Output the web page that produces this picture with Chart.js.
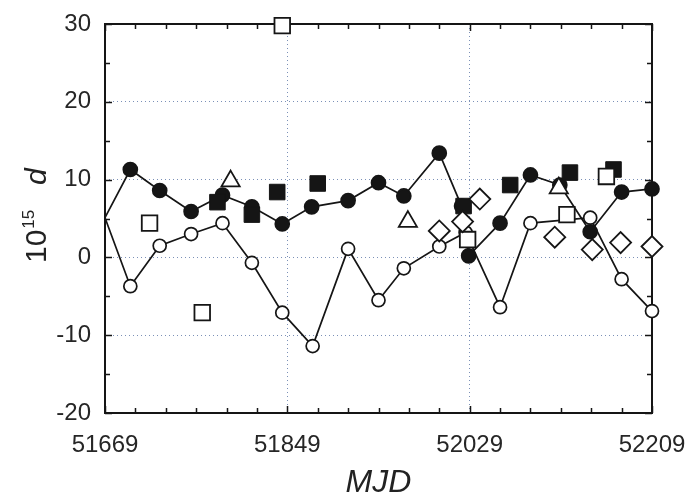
<!DOCTYPE html>
<html>
<head>
<meta charset="utf-8">
<script src="https://cdn.jsdelivr.net/npm/chart.js@4.4.0/dist/chart.umd.min.js"></script>
<style>
html, body { margin: 0; padding: 0; background: #fff; }
#wrap { width: 690px; height: 499px; }
</style>
</head>
<body>
<div id="wrap"><canvas id="dChart" width="690" height="499"></canvas></div>
<script>
// values (MJD, 10^15 d)
var filledMjd = [51669, 51694, 51723, 51754, 51785, 51814, 51844, 51873, 51909, 51939, 51964, 51999, 52021, 52028, 52059, 52089, 52118, 52148, 52179, 52209];
var filledVal = [5.1, 11.3, 8.6, 5.9, 8.0, 6.5, 4.3, 6.5, 7.3, 9.6, 7.9, 13.4, 6.6, 0.2, 4.4, 10.6, 9.3, 3.3, 8.4, 8.8];

var openMjd = [51669, 51694, 51723, 51754, 51785, 51814, 51844, 51874, 51909, 51939, 51964, 51999, 52025, 52059, 52089, 52148, 52179, 52209];
var openVal = [5.1, -3.7, 1.5, 3.0, 4.4, -0.7, -7.1, -11.4, 1.1, -5.5, -1.4, 1.4, 3.2, -6.4, 4.4, 5.1, -2.8, -6.9];

var fSquareMjd = [51780, 51814, 51839, 51879, 52023, 52069, 52128, 52171];
var fSquareVal = [7.1, 5.5, 8.4, 9.5, 6.6, 9.3, 10.9, 11.3];

var oSquareMjd = [51713, 51765, 51844, 52027, 52125, 52164];
var oSquareVal = [4.4, -7.1, 29.8, 2.3, 5.5, 10.4];

var triMjd = [51793, 51968, 52117];
var triVal = [9.8, 4.6, 8.9];

var diaMjd = [51999, 52022, 52039, 52113, 52150, 52178, 52209];
var diaVal = [3.4, 4.6, 7.5, 2.6, 1.0, 1.9, 1.4];

var xTickLabels = [51669, 51849, 52029, 52209];
var yTickLabels = [-20, -10, 0, 10, 20, 30];

function pts(xs, ys) {
    return xs.map(function (x, i) { return { x: x, y: ys[i] }; });
}

var ink = '#151515';
var gridColor = 'rgba(100,125,170,0.85)';

// box around the plot with inward ticks, like the original figure
var framePlugin = {
    id: 'frame',
    beforeDatasetsDraw: function (chart) {
        var a = chart.chartArea, ctx = chart.ctx;
        var xs = chart.scales.x, ys = chart.scales.y;
        ctx.save();
        ctx.strokeStyle = ink;
        ctx.lineWidth = 1.5;
        ctx.beginPath();
        for (var m = xs.min; m <= xs.max; m += 30) {
            var px = Math.round(xs.getPixelForValue(m)) + 0.5;
            var len = (m - xs.min) % 180 === 0 ? 7 : 5;
            ctx.moveTo(px, a.bottom); ctx.lineTo(px, a.bottom - len);
            ctx.moveTo(px, a.top); ctx.lineTo(px, a.top + len);
        }
        for (var v = ys.min; v <= ys.max; v += 5) {
            var py = Math.round(ys.getPixelForValue(v)) + 0.5;
            var l2 = v % 10 === 0 ? 7 : 5;
            ctx.moveTo(a.left, py); ctx.lineTo(a.left + l2, py);
            ctx.moveTo(a.right, py); ctx.lineTo(a.right - l2, py);
        }
        ctx.stroke();
        ctx.lineWidth = 2;
        ctx.strokeRect(a.left, a.top, a.right - a.left, a.bottom - a.top);
        ctx.restore();
    },
    afterDraw: function (chart) {
        // y title: 10^15 d
        var ctx = chart.ctx;
        ctx.save();
        ctx.translate(46, 263);
        ctx.rotate(-Math.PI / 2);
        ctx.fillStyle = '#222';
        ctx.textBaseline = 'alphabetic';
        ctx.textAlign = 'left';
        ctx.font = '30px "Liberation Sans", Arial, sans-serif';
        ctx.fillText('10', 0, 0);
        var w = ctx.measureText('10').width;
        ctx.font = '17px "Liberation Sans", Arial, sans-serif';
        ctx.fillText('15', w + 1, -12);
        ctx.font = 'italic 30px "Liberation Sans", Arial, sans-serif';
        ctx.fillText('d', 78, 0);
        ctx.restore();
    }
};

var ctx = document.getElementById('dChart').getContext('2d');
var dChart = new Chart(ctx, {
    type: 'scatter',
    data: {
        datasets: [{
            label: 'diamonds',
            data: pts(diaMjd, diaVal),
            pointStyle: 'rectRot',
            pointRadius: 10.5,
            backgroundColor: '#fff',
            borderColor: ink,
            borderWidth: 1.8,
            clip: false
        }, {
            label: 'triangles',
            data: pts(triMjd, triVal),
            pointStyle: 'triangle',
            pointRadius: 10.5,
            backgroundColor: '#fff',
            borderColor: ink,
            borderWidth: 1.8,
            clip: false
        }, {
            label: 'open squares',
            data: pts(oSquareMjd, oSquareVal),
            pointStyle: 'rect',
            pointRadius: 11,
            backgroundColor: '#fff',
            borderColor: ink,
            borderWidth: 1.8,
            clip: false
        }, {
            label: 'filled squares',
            data: pts(fSquareMjd, fSquareVal),
            pointStyle: 'rect',
            pointRadius: 11,
            backgroundColor: ink,
            borderColor: ink,
            borderWidth: 1,
            clip: false
        }, {
            label: 'open circles',
            data: pts(openMjd, openVal),
            showLine: true,
            pointStyle: 'circle',
            pointRadius: function (c) { return c.dataIndex === 0 ? 0 : 6.5; },
            backgroundColor: '#fff',
            borderColor: ink,
            borderWidth: 1.7,
            clip: false
        }, {
            label: 'filled circles',
            data: pts(filledMjd, filledVal),
            showLine: true,
            pointStyle: 'circle',
            pointRadius: function (c) { return c.dataIndex === 0 ? 0 : 7; },
            backgroundColor: ink,
            borderColor: ink,
            borderWidth: 1.7,
            clip: false
        }]
    },
    options: {
        responsive: false,
        animation: false,
        layout: { padding: { top: 24, right: 38, left: 0, bottom: 0 } },
        plugins: {
            legend: { display: false },
            tooltip: { enabled: false }
        },
        scales: {
            x: {
                type: 'linear',
                min: 51669,
                max: 52209,
                afterBuildTicks: function (axis) {
                    axis.ticks = xTickLabels.map(function (v) { return { value: v }; });
                },
                afterFit: function (axis) {
                    axis.height = 86;
                    axis.paddingLeft = 0;
                    axis.paddingRight = 0;
                },
                grid: { color: gridColor, lineWidth: 1, drawTicks: false },
                border: { display: false, dash: [1, 3] },
                ticks: {
                    padding: 18,
                    color: '#262626',
                    font: { size: 24, family: '"Liberation Sans", Arial, sans-serif' },
                    maxRotation: 0,
                    callback: function (v) { return String(v); }
                },
                title: {
                    display: true,
                    text: 'MJD',
                    color: '#222',
                    padding: { top: 0, bottom: 0 },
                    font: { size: 32, style: 'italic', lineHeight: 1, family: '"Liberation Sans", Arial, sans-serif' }
                }
            },
            y: {
                min: -20,
                max: 30,
                afterBuildTicks: function (axis) {
                    axis.ticks = yTickLabels.map(function (v) { return { value: v }; });
                },
                afterFit: function (axis) {
                    axis.width = 105;
                    axis.paddingTop = 0;
                    axis.paddingBottom = 0;
                },
                grid: { color: gridColor, lineWidth: 1, drawTicks: false },
                border: { display: false, dash: [1, 3] },
                ticks: {
                    padding: 14,
                    color: '#262626',
                    font: { size: 24, family: '"Liberation Sans", Arial, sans-serif' },
                    callback: function (v) { return String(v); }
                }
            }
        }
    },
    plugins: [framePlugin]
});
</script>
</body>
</html>
